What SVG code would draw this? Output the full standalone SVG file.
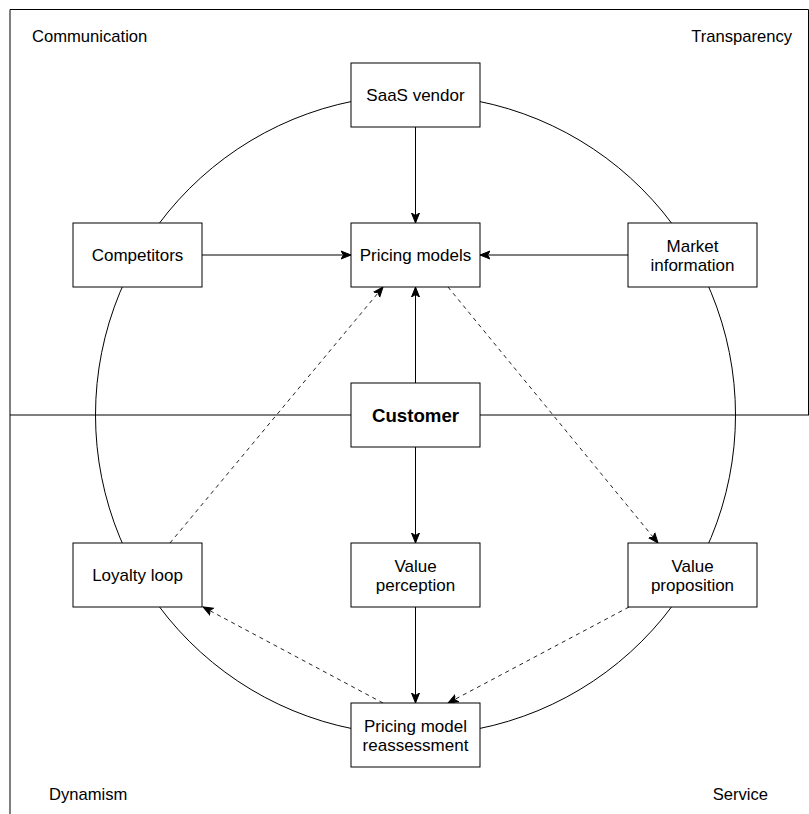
<svg xmlns="http://www.w3.org/2000/svg" width="809" height="814" viewBox="0 0 809 814">
  <style>
    .frame { fill: none; stroke: #000; stroke-width: 1; }
    .ring { fill: none; stroke: #000; stroke-width: 1; }
    .box { fill: #fff; stroke: #000; stroke-width: 1; }
    .lbl { font-family: "Liberation Sans", Arial, Helvetica, sans-serif; font-size: 17px; fill: #000; text-anchor: middle; }
    .corner { font-family: "Liberation Sans", Arial, Helvetica, sans-serif; font-size: 16.6px; fill: #000; }
    .bold { font-weight: bold; font-size: 18.67px; }
    .edge { fill: none; stroke: #000; stroke-width: 1; marker-end: url(#arrow); }
    .dash { stroke-dasharray: 4 4; stroke: #222; }
  </style>
  <defs>
    <marker id="arrow" markerUnits="userSpaceOnUse" markerWidth="12" markerHeight="10" viewBox="0 0 12 10" refX="10" refY="5" orient="auto">
      <path d="M0,1 L10,5 L0,9 L2.5,5 Z" fill="#000" stroke="#000" stroke-width="1"/>
    </marker>
  </defs>
  <rect width="809" height="814" fill="#fff"/>

  <!-- quadrant frame -->
  <g id="frame">
    <path class="frame" d="M10,814 V9.5 H808.5 V415"/>
    <line class="frame" x1="10" y1="415" x2="809" y2="415"/>
    <circle class="ring" cx="415.5" cy="415" r="320"/>
  </g>

  <!-- quadrant captions -->
  <g id="captions">
    <text class="corner" x="32" y="42">Communication</text>
    <text class="corner" x="792" y="42" text-anchor="end">Transparency</text>
    <text class="corner" x="49" y="800">Dynamism</text>
    <text class="corner" x="768" y="800" text-anchor="end">Service</text>
  </g>

  <!-- connectors -->
  <g id="connectors">
    <line class="edge" x1="415.5" y1="127" x2="415.5" y2="223"/>
    <line class="edge" x1="202" y1="255" x2="351" y2="255"/>
    <line class="edge" x1="628" y1="255" x2="480" y2="255"/>
    <line class="edge" x1="415.5" y1="383" x2="415.5" y2="287"/>
    <line class="edge" x1="415.5" y1="447" x2="415.5" y2="543"/>
    <line class="edge" x1="415.5" y1="607" x2="415.5" y2="703"/>
    <line class="edge dash" x1="170" y1="543" x2="383" y2="287"/>
    <line class="edge dash" x1="448" y1="287" x2="658" y2="543"/>
    <line class="edge dash" x1="629" y1="607" x2="448" y2="703"/>
    <line class="edge dash" x1="383" y1="703" x2="203" y2="607"/>
  </g>

  <g id="saas-vendor">
    <rect class="box" x="351" y="63" width="129" height="64"/>
    <text class="lbl" x="415.5" y="101">SaaS vendor</text>
  </g>
  <g id="competitors">
    <rect class="box" x="73" y="223" width="129" height="64"/>
    <text class="lbl" x="137.5" y="261">Competitors</text>
  </g>
  <g id="pricing-models">
    <rect class="box" x="351" y="223" width="129" height="64"/>
    <text class="lbl" x="415.5" y="261">Pricing models</text>
  </g>
  <g id="market-information">
    <rect class="box" x="628" y="223" width="129" height="64"/>
    <text class="lbl" x="692.5" y="252">Market</text>
    <text class="lbl" x="692.5" y="271">information</text>
  </g>
  <g id="customer">
    <rect class="box" x="351" y="383" width="129" height="64"/>
    <text class="lbl bold" x="415.5" y="421.5">Customer</text>
  </g>
  <g id="loyalty-loop">
    <rect class="box" x="73" y="543" width="129" height="64"/>
    <text class="lbl" x="137.5" y="581">Loyalty loop</text>
  </g>
  <g id="value-perception">
    <rect class="box" x="351" y="543" width="129" height="64"/>
    <text class="lbl" x="415.5" y="572">Value</text>
    <text class="lbl" x="415.5" y="591">perception</text>
  </g>
  <g id="value-proposition">
    <rect class="box" x="628" y="543" width="129" height="64"/>
    <text class="lbl" x="692.5" y="572">Value</text>
    <text class="lbl" x="692.5" y="591">proposition</text>
  </g>
  <g id="pricing-model-reassessment">
    <rect class="box" x="351" y="703" width="129" height="64"/>
    <text class="lbl" x="415.5" y="732">Pricing model</text>
    <text class="lbl" x="415.5" y="751">reassessment</text>
  </g>
</svg>
